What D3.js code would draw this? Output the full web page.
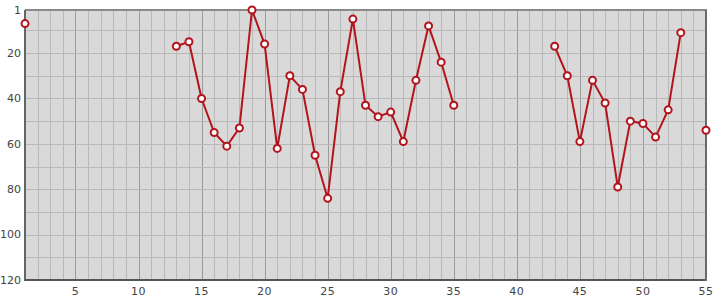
<!doctype html>
<html lang="en">
<head>
<meta charset="utf-8">
<title>Chart</title>
<style>
body { margin: 0; background: #fff; font-family: "DejaVu Sans", sans-serif; }
</style>
</head>
<body>
<script src="https://d3js.org/d3.v7.min.js"></script>
<script>

// x positions 1..55, null where there is no value
var xs = d3.range(1, 56);
var values = [7, null, null, null, null, null, null, null, null, null, null, null,
  17, 15, 40, 55, 61, 53, 1, 16, 62, 30, 36, 65, 84, 37, 5, 43, 48, 46, 59, 32, 8, 24, 43,
  null, null, null, null, null, null, null,
  17, 30, 59, 32, 42, 79, 50, 51, 57, 45, 11, null, 54];
var xTicks = [5, 10, 15, 20, 25, 30, 35, 40, 45, 50, 55];
var yTicks = [1, 20, 40, 60, 80, 100, 120];

var W = 715, H = 300;
var svg = d3.select("body").append("svg").attr("width", W).attr("height", H);

var x = d3.scaleLinear().domain([1, 55]).range([25, 706]);
var y = d3.scaleLinear().domain([1, 120]).range([10, 280]);

var data = xs.map(function (d, i) { return { x: d, v: values[i] }; });

// plot background
svg.append("rect")
  .attr("x", x(1)).attr("y", y(1))
  .attr("width", x(55) - x(1)).attr("height", y(120) - y(1))
  .attr("fill", "#d9d9d9");

// vertical grid, minor every 1, major every 5
svg.append("g").selectAll("line")
  .data(d3.range(2, 55))
  .join("line")
  .attr("x1", function (d) { return x(d) + 0.5; })
  .attr("x2", function (d) { return x(d) + 0.5; })
  .attr("y1", y(1)).attr("y2", y(120))
  .attr("stroke", function (d) { return d % 5 === 0 ? "#9a9a9a" : "#b9b9b9"; })
  .attr("stroke-width", 1)
  .attr("shape-rendering", "crispEdges");

// horizontal grid every 10
svg.append("g").selectAll("line")
  .data(d3.range(10, 120, 10))
  .join("line")
  .attr("x1", x(1)).attr("x2", x(55))
  .attr("y1", function (d) { return Math.round(y(d)) + 0.5; })
  .attr("y2", function (d) { return Math.round(y(d)) + 0.5; })
  .attr("stroke", "#b9b9b9")
  .attr("shape-rendering", "crispEdges");

// frame
var frame = svg.append("g").attr("shape-rendering", "crispEdges");
frame.append("line").attr("x1", x(1)).attr("x2", x(55) + 1).attr("y1", y(1)).attr("y2", y(1))
  .attr("stroke", "#8a8a8a").attr("stroke-width", 2);
frame.append("line").attr("x1", x(1)).attr("x2", x(1)).attr("y1", y(1)).attr("y2", y(120) + 1)
  .attr("stroke", "#666").attr("stroke-width", 2);
frame.append("line").attr("x1", x(1)).attr("x2", x(55) + 1).attr("y1", y(120)).attr("y2", y(120))
  .attr("stroke", "#555").attr("stroke-width", 2);
frame.append("line").attr("x1", x(55)).attr("x2", x(55)).attr("y1", y(1)).attr("y2", y(120) + 1)
  .attr("stroke", "#6a6a6a").attr("stroke-width", 2);

// y labels
svg.append("g").selectAll("text")
  .data(yTicks)
  .join("text")
  .attr("x", 21)
  .attr("y", function (d) { return y(d); })
  .attr("dy", "0.35em")
  .attr("text-anchor", "end")
  .attr("font-size", 11)
  .attr("letter-spacing", 0)
  .attr("fill", "#444")
  .text(function (d) { return d; });

// x labels
svg.append("g").selectAll("text")
  .data(xTicks)
  .join("text")
  .attr("x", function (d) { return x(d); })
  .attr("y", 295)
  .attr("text-anchor", "middle")
  .attr("font-size", 11)
  .attr("letter-spacing", 0.5)
  .attr("fill", "#444")
  .text(function (d) { return d; });

// line
var line = d3.line()
  .defined(function (d) { return d.v !== null; })
  .x(function (d) { return x(d.x); })
  .y(function (d) { return y(d.v); });

svg.append("path")
  .datum(data)
  .attr("d", line)
  .attr("fill", "none")
  .attr("stroke", "#b3141b")
  .attr("stroke-width", 2);

// markers
svg.append("g").selectAll("circle")
  .data(data.filter(function (d) { return d.v !== null; }))
  .join("circle")
  .attr("cx", function (d) { return x(d.x); })
  .attr("cy", function (d) { return y(d.v); })
  .attr("r", 3.5)
  .attr("fill", "#fff")
  .attr("stroke", "#b3141b")
  .attr("stroke-width", 2);

</script>
</body>
</html>
